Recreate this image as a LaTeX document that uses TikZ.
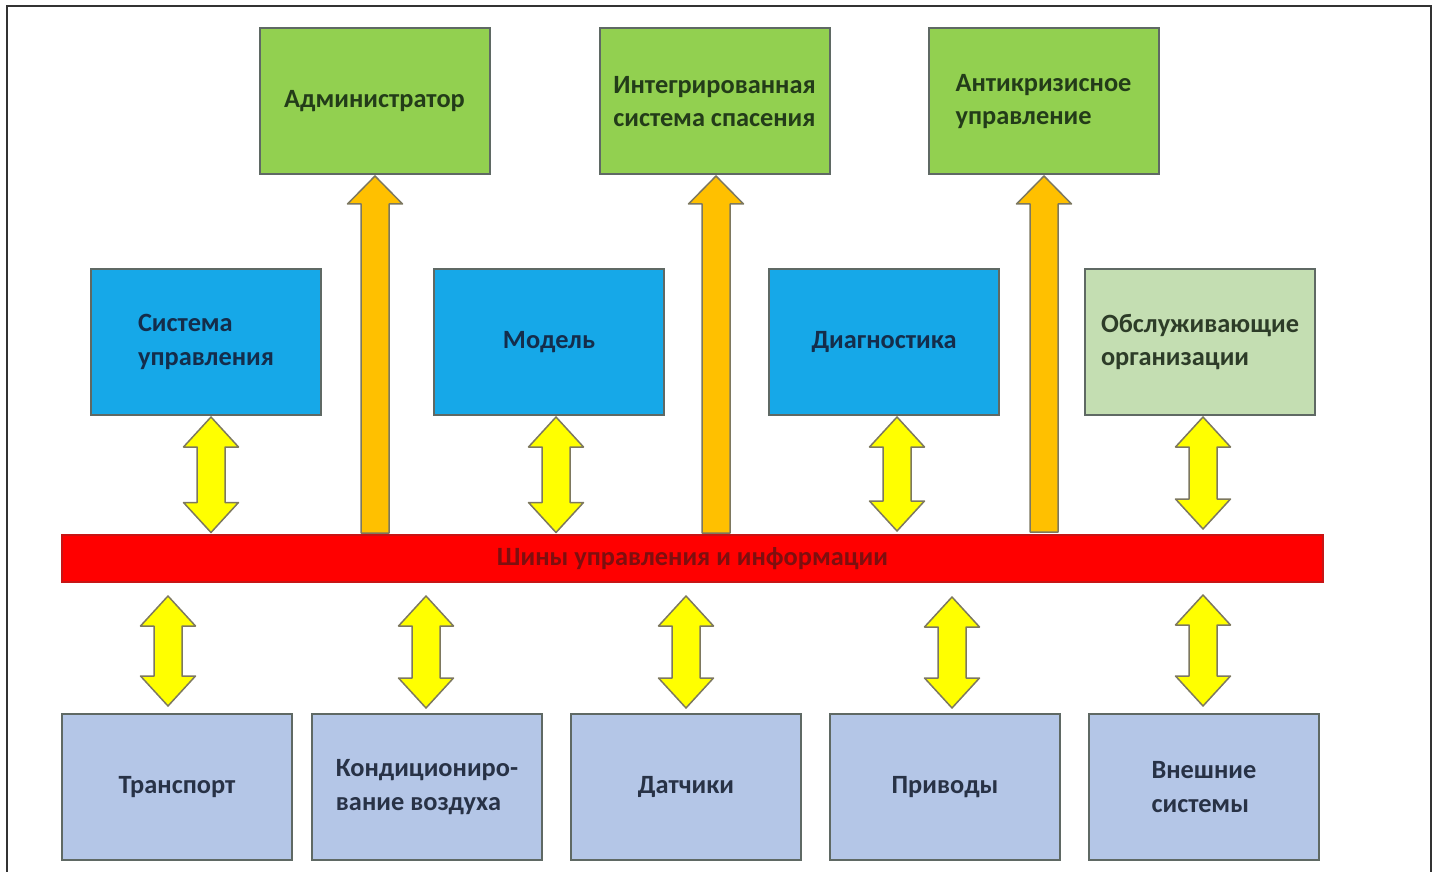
\documentclass[tikz,border=0pt]{standalone}
\usepackage{fontspec}
\setmainfont{Carlito}
\usetikzlibrary{positioning, calc}
\definecolor{topgreen}{RGB}{146,208,80}
\definecolor{midblue}{RGB}{22,168,232}
\definecolor{palegreen}{RGB}{196,222,178}
\definecolor{lowblue}{RGB}{180,198,231}
\definecolor{busred}{RGB}{255,0,0}
\definecolor{orangearrow}{RGB}{255,192,0}
\definecolor{yellowarrow}{RGB}{255,255,0}
\definecolor{boxline}{RGB}{95,105,100}
\definecolor{arrowline}{RGB}{125,120,95}

% up and down arrow between a box and the bus
\newcommand{\dblarrow}[4]{%
  \draw[#1] let \p1=(#3), \p2=(#4), \p3=(#2,0) in
    (\x3,\y1) -- (\x3+0.55cm,\y1-0.6cm) -- (\x3+0.28cm,\y1-0.6cm)
    -- (\x3+0.28cm,\y2+0.6cm) -- (\x3+0.55cm,\y2+0.6cm) -- (\x3,\y2)
    -- (\x3-0.55cm,\y2+0.6cm) -- (\x3-0.28cm,\y2+0.6cm)
    -- (\x3-0.28cm,\y1-0.6cm) -- (\x3-0.55cm,\y1-0.6cm) -- cycle;}
% arrow from the bus up to a box
\newcommand{\busuparrow}[4]{%
  \draw[#1] let \p1=(#3), \p2=(#4), \p3=(#2,0) in
    (\x3,\y1) -- (\x3+0.55cm,\y1-0.56cm) -- (\x3+0.28cm,\y1-0.56cm)
    -- (\x3+0.28cm,\y2) -- (\x3-0.28cm,\y2)
    -- (\x3-0.28cm,\y1-0.56cm) -- (\x3-0.55cm,\y1-0.56cm) -- cycle;}

\begin{document}
\begin{tikzpicture}[
    block/.style={rectangle, draw=boxline, line width=0.04cm, outer sep=0pt,
        minimum width=4.6cm, minimum height=2.92cm, align=left,
        font=\fontsize{15}{19}\selectfont\bfseries},
    topblock/.style={block, fill=topgreen, text={rgb,255:red,35;green,60;blue,25}},
    midblock/.style={block, fill=midblue, text={rgb,255:red,20;green,45;blue,75}},
    serviceblock/.style={block, fill=palegreen, text={rgb,255:red,45;green,60;blue,40}},
    lowblock/.style={block, fill=lowblue, text={rgb,255:red,40;green,50;blue,70}},
    busbar/.style={rectangle, draw={rgb,255:red,200;green,20;blue,20}, fill=busred,
        line width=0.04cm, outer sep=0pt, minimum width=25.22cm, minimum height=0.94cm,
        font=\fontsize{15}{19}\selectfont\bfseries, text={rgb,255:red,125;green,15;blue,15}},
    orangearr/.style={fill=orangearrow, draw=arrowline, line width=0.03cm, line join=round},
    yellowarr/.style={fill=yellowarrow, draw=arrowline, line width=0.03cm, line join=round}
]
    \useasboundingbox (0,0) rectangle (28.74,-17.44);

    % outer frame
    \draw[line width=0.04cm, black!80] (0.15,-17.6) -- (0.15,-0.12) -- (28.61,-0.12) -- (28.61,-17.6);

    % Top row
    \node[topblock] (adminbox) at (7.49,-2.03) {Администратор};
    \node[topblock, right=2.2cm of adminbox] (rescuebox) {Интегрированная\\система спасения};
    \node[topblock, right=1.98cm of rescuebox] (crisisbox) {Антикризисное\\управление};

    % Middle row
    \node[midblock] (controlbox) at (4.12,-6.84) {Система\\управления};
    \node[midblock, right=2.26cm of controlbox] (modelbox) {Модель};
    \node[midblock, right=2.1cm of modelbox] (diagbox) {Диагностика};
    \node[serviceblock, right=1.72cm of diagbox] (servicebox) {Обслуживающие\\организации};

    % Bus
    \node[busbar] (bus) at (13.85,-11.17) {Шины управления и информации};

    % Bottom row
    \node[lowblock] (transportbox) at (3.54,-15.74) {Транспорт};
    \node[lowblock, right=0.4cm of transportbox] (airbox) {Кондициониро-\\вание воздуха};
    \node[lowblock, right=0.58cm of airbox] (sensorbox) {Датчики};
    \node[lowblock, right=0.58cm of sensorbox] (drivebox) {Приводы};
    \node[lowblock, right=0.58cm of drivebox] (extbox) {Внешние\\системы};

    % Bus to top row
    \busuparrow{orangearr}{7.5}{$(adminbox.south)+(0,-0.03)$}{$(bus.north)+(0,0.04)$}
    \busuparrow{orangearr}{14.32}{$(rescuebox.south)+(0,-0.03)$}{$(bus.north)+(0,0.04)$}
    \busuparrow{orangearr}{20.88}{$(crisisbox.south)+(0,-0.03)$}{$(bus.north)+(0,0.06)$}

    % Middle row to bus
    \dblarrow{yellowarr}{4.22}{$(controlbox.south)+(0,-0.04)$}{$(bus.north)+(0,0.05)$}
    \dblarrow{yellowarr}{11.12}{$(modelbox.south)+(0,-0.04)$}{$(bus.north)+(0,0.05)$}
    \dblarrow{yellowarr}{17.94}{$(diagbox.south)+(0,-0.04)$}{$(bus.north)+(0,0.08)$}
    \dblarrow{yellowarr}{24.06}{$(servicebox.south)+(0,-0.04)$}{$(bus.north)+(0,0.12)$}

    % Bus to bottom row
    \dblarrow{yellowarr}{3.36}{$(bus.south)+(0,-0.28)$}{$(transportbox.north)+(0,0.16)$}
    \dblarrow{yellowarr}{8.52}{$(bus.south)+(0,-0.28)$}{$(airbox.north)+(0,0.12)$}
    \dblarrow{yellowarr}{13.72}{$(bus.south)+(0,-0.28)$}{$(sensorbox.north)+(0,0.12)$}
    \dblarrow{yellowarr}{19.04}{$(bus.south)+(0,-0.3)$}{$(drivebox.north)+(0,0.12)$}
    \dblarrow{yellowarr}{24.06}{$(bus.south)+(0,-0.26)$}{$(extbox.north)+(0,0.16)$}

\end{tikzpicture}
\end{document}
